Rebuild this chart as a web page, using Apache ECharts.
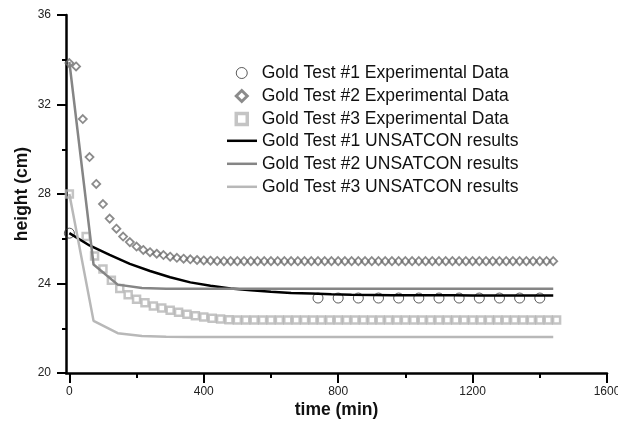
<!DOCTYPE html>
<html>
<head>
<meta charset="utf-8">
<script src="https://cdn.jsdelivr.net/npm/echarts@6/dist/echarts.min.js"></script>
<style>
  html, body { margin: 0; padding: 0; background: #fff; overflow: hidden; }
  #chart { width: 618px; height: 423px; }
</style>
</head>
<body>
<div id="chart"></div>
<script>
// Gold Test #1 experimental data (time in min, height in cm)
const test1Time = [0, 740, 800, 860, 920, 980, 1040, 1100, 1160, 1220, 1280, 1340, 1400];
const test1Height = [26.25, 23.35, 23.35, 23.35, 23.35, 23.35, 23.35, 23.35, 23.35, 23.35, 23.35, 23.35, 23.35];

// Gold Test #2 experimental data
const test2Time = [0, 20, 40, 60, 80, 100, 120, 140, 160, 180, 200, 220, 240, 260, 280, 300, 320, 340, 360, 380,
  400, 420, 440, 460, 480, 500, 520, 540, 560, 580, 600, 620, 640, 660, 680, 700, 720, 740, 760, 780,
  800, 820, 840, 860, 880, 900, 920, 940, 960, 980, 1000, 1020, 1040, 1060, 1080, 1100, 1120, 1140, 1160, 1180,
  1200, 1220, 1240, 1260, 1280, 1300, 1320, 1340, 1360, 1380, 1400, 1420, 1440];
const test2Height = [33.85, 33.7, 31.35, 29.65, 28.45, 27.55, 26.9, 26.45, 26.1, 25.85, 25.65, 25.5, 25.4, 25.33, 25.27, 25.2, 25.15, 25.11, 25.08, 25.05,
  25.03, 25.02, 25.01, 25.0, 25.0, 25.0, 25.0, 25.0, 25.0, 25.0, 25.0, 25.0, 25.0, 25.0, 25.0, 25.0, 25.0, 25.0, 25.0, 25.0,
  25.0, 25.0, 25.0, 25.0, 25.0, 25.0, 25.0, 25.0, 25.0, 25.0, 25.0, 25.0, 25.0, 25.0, 25.0, 25.0, 25.0, 25.0, 25.0, 25.0,
  25.0, 25.0, 25.0, 25.0, 25.0, 25.0, 25.0, 25.0, 25.0, 25.0, 25.0, 25.0, 25.0];

// Gold Test #3 experimental data
const test3Time = [0, 50, 75, 100, 125, 150, 175, 200, 225, 250, 275, 300, 325, 350, 375, 400, 425, 450, 475,
  500, 525, 550, 575, 600, 625, 650, 675, 700, 725, 750, 775, 800, 825, 850, 875, 900, 925, 950, 975,
  1000, 1025, 1050, 1075, 1100, 1125, 1150, 1175, 1200, 1225, 1250, 1275, 1300, 1325, 1350, 1375, 1400, 1425, 1450];
const test3Height = [28.0, 26.1, 25.23, 24.65, 24.15, 23.78, 23.5, 23.3, 23.14, 23.0, 22.9, 22.8, 22.71, 22.63, 22.56, 22.5, 22.45, 22.41, 22.38,
  22.37, 22.37, 22.37, 22.37, 22.37, 22.37, 22.37, 22.37, 22.37, 22.37, 22.37, 22.37, 22.37, 22.37, 22.37, 22.37, 22.37, 22.37, 22.37, 22.37,
  22.37, 22.37, 22.37, 22.37, 22.37, 22.37, 22.37, 22.37, 22.37, 22.37, 22.37, 22.37, 22.37, 22.37, 22.37, 22.37, 22.37, 22.37, 22.37];

// UNSATCON model results
const model1Time = [0, 60, 120, 180, 240, 300, 360, 420, 480, 540, 600, 660, 720, 780, 840, 900, 960, 1020, 1080, 1140, 1200, 1260, 1320, 1380, 1440];
const model1Height = [26.25, 25.7, 25.28, 24.88, 24.56, 24.28, 24.05, 23.9, 23.78, 23.7, 23.63, 23.58, 23.55, 23.52, 23.5, 23.49, 23.48, 23.47, 23.47, 23.47, 23.46, 23.46, 23.46, 23.46, 23.46];

const model23Time = [0, 72, 144, 216, 288, 360, 432, 504, 576, 648, 720, 792, 864, 936, 1008, 1080, 1152, 1224, 1296, 1368, 1440];
const model2Height = [33.9, 24.85, 23.95, 23.8, 23.77, 23.76, 23.76, 23.76, 23.76, 23.76, 23.76, 23.76, 23.76, 23.76, 23.76, 23.76, 23.76, 23.76, 23.76, 23.76, 23.76];
const model3Height = [28.0, 22.33, 21.78, 21.65, 21.62, 21.61, 21.61, 21.61, 21.61, 21.61, 21.61, 21.61, 21.61, 21.61, 21.61, 21.61, 21.61, 21.61, 21.61, 21.61, 21.61];

// Axis tick values
const xMajorTicks = [0, 400, 800, 1200, 1600];
const xMinorTicks = [200, 600, 1000, 1400];

const dataNames = [
  'Gold Test #1 Experimental Data',
  'Gold Test #2 Experimental Data',
  'Gold Test #3 Experimental Data'
];
const modelNames = [
  'Gold Test #1 UNSATCON results',
  'Gold Test #2 UNSATCON results',
  'Gold Test #3 UNSATCON results'
];

// Legend marker outlines (kept square inside the wide legend slot)
const DIAMOND_ICON = 'path://M5,0L10,5L5,10L0,5Z';
const SQUARE_ICON = 'path://M0,0L10,0L10,10L0,10Z';

const pairs = (xs, ys) => xs.map((x, i) => [x, ys[i]]);
const FONT = "'Liberation Sans', Arial, sans-serif";
const plainNumber = v => String(v);

const chart = echarts.init(document.getElementById('chart'), null, { renderer: 'canvas' });

const baseX = {
  type: 'value',
  min: -10,
  max: 1600,
  position: 'bottom',
  splitLine: { show: false }
};

const legendText = { fontFamily: FONT, fontSize: 17.5, color: '#111' };

chart.setOption({
  animation: false,
  backgroundColor: '#fff',
  grid: { left: 66, right: 11, top: 15, bottom: 50, containLabel: false, outerBoundsMode: 'none' },
  xAxis: [
    Object.assign({}, baseX, {
      name: 'time (min)',
      nameLocation: 'middle',
      nameGap: 28,
      nameMoveOverlap: false,
      nameTextStyle: { fontFamily: FONT, fontSize: 17.5, fontWeight: 'bold', color: '#111' },
      axisLine: { show: true, onZero: false, lineStyle: { color: '#000', width: 2.5 } },
      axisTick: { show: true, customValues: xMajorTicks, length: 10, lineStyle: { color: '#000', width: 2 } },
      axisLabel: { show: true, customValues: xMajorTicks, margin: 13, formatter: plainNumber, fontFamily: FONT, fontSize: 12, color: '#222' }
    }),
    Object.assign({}, baseX, {
      axisLine: { show: false },
      axisTick: { show: true, customValues: xMinorTicks, length: 5, lineStyle: { color: '#000', width: 2 } },
      axisLabel: { show: false }
    })
  ],
  yAxis: {
    type: 'value',
    min: 20,
    max: 36,
    interval: 4,
    name: 'height (cm)',
    nameLocation: 'middle',
    nameGap: 35,
    nameRotate: 90,
    nameMoveOverlap: false,
    nameTextStyle: { fontFamily: FONT, fontSize: 17.5, fontWeight: 'bold', color: '#111' },
    axisLine: { show: true, onZero: false, lineStyle: { color: '#000', width: 2.5 } },
    axisTick: { show: true, length: 9, lineStyle: { color: '#000', width: 2 } },
    minorTick: { show: true, splitNumber: 2, length: 4, lineStyle: { color: '#000', width: 2 } },
    axisLabel: { margin: 15, formatter: plainNumber, fontFamily: FONT, fontSize: 12, color: '#222' },
    splitLine: { show: false }
  },
  legend: [
    {
      // experimental data markers
      orient: 'vertical',
      left: 234.5,
      top: 64,
      padding: 0,
      itemWidth: 30,
      itemHeight: 11,
      itemGap: 5,
      symbolKeepAspect: true,
      textStyle: legendText,
      data: [
        { name: dataNames[0], icon: 'circle', itemStyle: { color: '#fff', borderColor: '#333', borderWidth: 1 } },
        { name: dataNames[1], icon: DIAMOND_ICON, itemStyle: { color: '#fff', borderColor: '#6e6e6e', borderWidth: 3 } },
        { name: dataNames[2], icon: SQUARE_ICON, itemStyle: { color: '#fff', borderColor: '#b5b5b5', borderWidth: 3.5 } }
      ]
    },
    {
      // model result lines
      orient: 'vertical',
      left: 227,
      top: 131.8,
      padding: 0,
      itemWidth: 30,
      itemHeight: 2.5,
      itemGap: 5,
      icon: 'rect',
      textStyle: legendText,
      data: modelNames
    }
  ],
  series: [
    {
      name: dataNames[0],
      type: 'scatter',
      symbol: 'circle',
      symbolSize: 10,
      itemStyle: { color: 'rgba(255,255,255,0)', borderColor: '#333', borderWidth: 1 },
      data: pairs(test1Time, test1Height)
    },
    {
      name: dataNames[1],
      type: 'scatter',
      symbol: 'diamond',
      symbolSize: 8,
      itemStyle: { color: 'rgba(255,255,255,0)', borderColor: '#6e6e6e', borderWidth: 1.8 },
      data: pairs(test2Time, test2Height)
    },
    {
      name: dataNames[2],
      type: 'scatter',
      symbol: 'rect',
      symbolSize: 7,
      itemStyle: { color: 'rgba(255,255,255,0)', borderColor: '#b5b5b5', borderWidth: 2.5 },
      data: pairs(test3Time, test3Height)
    },
    {
      name: modelNames[0],
      type: 'line',
      symbol: 'none',
      showSymbol: false,
      lineStyle: { color: '#000', width: 2.5 },
      itemStyle: { color: '#000' },
      data: pairs(model1Time, model1Height)
    },
    {
      name: modelNames[1],
      type: 'line',
      symbol: 'none',
      showSymbol: false,
      lineStyle: { color: '#858585', width: 2.5 },
      itemStyle: { color: '#858585' },
      data: pairs(model23Time, model2Height)
    },
    {
      name: modelNames[2],
      type: 'line',
      symbol: 'none',
      showSymbol: false,
      lineStyle: { color: '#b8b8b8', width: 2.5 },
      itemStyle: { color: '#b8b8b8' },
      data: pairs(model23Time, model3Height)
    }
  ]
});
</script>
</body>
</html>
